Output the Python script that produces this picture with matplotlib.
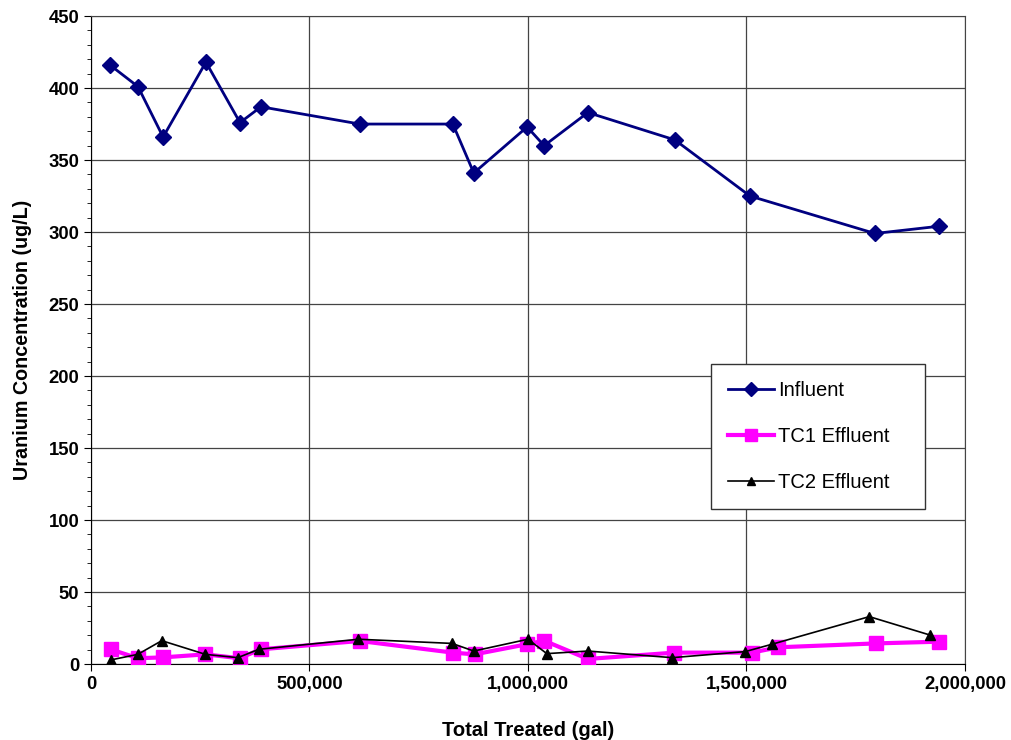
import matplotlib
matplotlib.use("Agg")
import matplotlib.pyplot as plt
from matplotlib.ticker import FuncFormatter, MultipleLocator

plt.rcParams["font.family"] = ["Liberation Sans", "DejaVu Sans"]

# influent
inf_x = [43500, 107500, 165000, 263000, 341000, 389000, 615000, 828000, 876000,
         998000, 1037000, 1137000, 1336000, 1508000, 1794000, 1940000]
inf_y = [416, 401, 366, 418, 376, 387, 375, 375, 341, 373, 360, 383, 364, 325, 299, 304]

# TC1 effluent
tc1_x = [45000, 107000, 165000, 262000, 340000, 388000, 615000, 828000, 878000,
         997000, 1037000, 1137000, 1335000, 1512000, 1573000, 1796000, 1940000]
tc1_y = [10.2, 4, 4.6, 6.7, 4, 10.2, 16, 7.9, 6.7, 13.7, 16.2, 3.5, 7.9, 7.9, 11.6, 14.3, 15.5]

# TC2 effluent
tc2_x = [45000, 107000, 162000, 262000, 336000, 384000, 612000, 826000, 876000,
         1000000, 1043000, 1137000, 1330000, 1497000, 1558000, 1781000, 1920000]
tc2_y = [2.8, 6.7, 16.2, 6.7, 4.4, 10.2, 17.2, 14.3, 9, 17.2, 7.2, 9, 4.4, 8.6, 13.7, 32.9, 20.1]

fig = plt.figure(figsize=(10.11, 7.40), dpi=100)
ax = fig.add_axes([0.09, 0.1027, 0.8645, 0.8756])

ax.plot(inf_x, inf_y, color="#000080", lw=2, marker="D", ms=8, label="Influent", zorder=4)
ax.plot(tc1_x, tc1_y, color="#FF00FF", lw=3, marker="s", ms=10, label="TC1 Effluent", zorder=3)
ax.plot(tc2_x, tc2_y, color="black", lw=1.2, marker="^", ms=7, label="TC2 Effluent", zorder=5)

ax.set_xlim(0, 2000000)
ax.set_ylim(0, 450)
ax.xaxis.set_major_locator(MultipleLocator(500000))
ax.yaxis.set_major_locator(MultipleLocator(50))
ax.yaxis.set_minor_locator(MultipleLocator(10))
ax.xaxis.set_major_formatter(FuncFormatter(lambda v, p: f"{int(v):,}"))
ax.grid(True, which="major", color="#444444", lw=0.9)
ax.set_axisbelow(True)
for s in ax.spines.values():
    s.set_color("#444444")
ax.spines["left"].set_color("black")
ax.spines["bottom"].set_color("black")

ax.tick_params(axis="both", which="major", direction="out", length=5, labelsize=13.3)
ax.tick_params(axis="y", which="minor", direction="out", length=3)
for lbl in ax.get_xticklabels() + ax.get_yticklabels():
    lbl.set_fontweight("bold")

ax.set_xlabel("Total Treated (gal)", fontsize=14.5, fontweight="bold", labelpad=20)
ax.set_ylabel("Uranium Concentration (ug/L)", fontsize=14.2, fontweight="bold", labelpad=12)

leg = ax.legend(loc="lower left", bbox_to_anchor=(0.709, 0.239, 0.245, 0.221), mode="expand",
                borderaxespad=0, fancybox=False, edgecolor="#333333", framealpha=1, fontsize=14.5,
                labelspacing=1.35, handlelength=2.3, handletextpad=0.2, borderpad=0.85,
                markerscale=0.85)
leg.get_frame().set_linewidth(1)

fig.savefig("out.png", dpi=100)
